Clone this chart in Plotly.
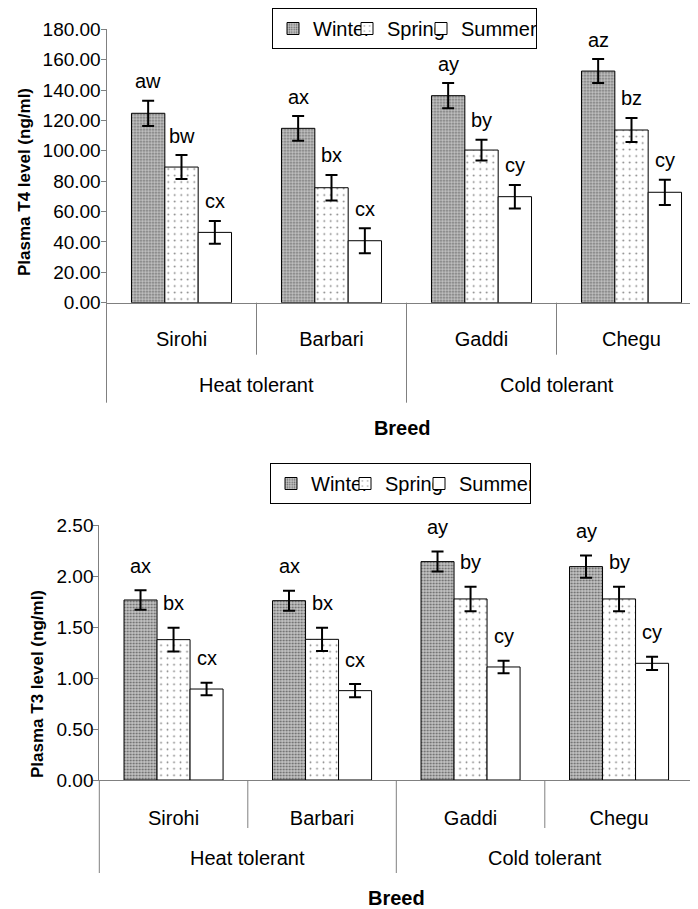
import plotly.graph_objects as go

# ---------------- data ----------------
breeds = ["Sirohi", "Barbari", "Gaddi", "Chegu"]
groups = ["Heat tolerant", "Cold tolerant"]
seasons = ["Winter", "Spring", "Summer"]

t4_winter = [124.7, 114.8, 136.3, 152.5]
t4_spring = [89.3, 75.7, 100.5, 113.7]
t4_summer = [46.3, 40.8, 69.8, 72.7]
t4_winter_err = [8.3, 8.1, 8.3, 7.9]
t4_spring_err = [7.9, 8.4, 6.8, 7.9]
t4_summer_err = [7.5, 8.2, 7.7, 8.3]
t4_winter_lbl = ["aw", "ax", "ay", "az"]
t4_spring_lbl = ["bw", "bx", "by", "bz"]
t4_summer_lbl = ["cx", "cx", "cy", "cy"]

t3_winter = [1.765, 1.758, 2.141, 2.092]
t3_spring = [1.376, 1.379, 1.775, 1.775]
t3_summer = [0.892, 0.876, 1.108, 1.144]
t3_winter_err = [0.095, 0.098, 0.098, 0.11]
t3_spring_err = [0.117, 0.114, 0.12, 0.12]
t3_summer_err = [0.062, 0.065, 0.062, 0.065]
t3_winter_lbl = ["ax", "ax", "ay", "ay"]
t3_spring_lbl = ["bx", "bx", "by", "by"]
t3_summer_lbl = ["cx", "cx", "cy", "cy"]

# ---------------- style / layout ----------------
OFF = 8                      # default page body margin
W, H = 698 - OFF, 909 - OFF  # figure size inside the window
FONT = "Liberation Sans, Arial, sans-serif"
BARGAP = 0.333
AXCOL = "#808080"


def px_x(px):
    return (px - OFF) / W


def px_y(py):
    return 1 - (py - OFF) / H


patterns = {
    "Winter": dict(shape=".", fgcolor="black", bgcolor="#c4c4c4", size=3, solidity=0.3),
    "Spring": dict(shape=".", fgcolor="black", bgcolor="white", size=6.5, solidity=0.06),
    "Summer": dict(shape="", bgcolor="white"),
}

top = dict(xa="x", ya="y", legend="legend",
           xdom=[px_x(106.5), 1.0], ydom=[px_y(302.7), px_y(29.3)],
           xrange=[-0.5, -0.5 + (698 - 106.5) / 150.0], yrange=[0, 180], dtick=20,
           vals=[t4_winter, t4_spring, t4_summer],
           errs=[t4_winter_err, t4_spring_err, t4_summer_err],
           lbls=[t4_winter_lbl, t4_spring_lbl, t4_summer_lbl],
           lblshift=19.5, ytitle="Plasma T4 level (ng/ml)", ytitle_pos=(24, 182),
           right_edge=False, short=52, long=100, grp=82,
           tls=18, breed_standoff=72)
bot = dict(xa="x2", ya="y2", legend="legend2",
           xdom=[px_x(99.3), px_x(693.3)], ydom=[px_y(780), px_y(525)],
           xrange=[-0.5, 3.5], yrange=[0, 2.5], dtick=0.5,
           vals=[t3_winter, t3_spring, t3_summer],
           errs=[t3_winter_err, t3_spring_err, t3_summer_err],
           lbls=[t3_winter_lbl, t3_spring_lbl, t3_summer_lbl],
           lblshift=24.5, ytitle="Plasma T3 level (ng/ml)", ytitle_pos=(37, 684),
           right_edge=True, short=48, long=93, grp=78,
           tls=20, breed_standoff=63)

fig = go.Figure()
annotations = []
shapes = []

for P in (top, bot):
    for i, s in enumerate(seasons):
        fig.add_trace(go.Bar(
            x=breeds, y=P["vals"][i], name=s,
            xaxis=P["xa"], yaxis=P["ya"], legend=P["legend"],
            marker=dict(color="white", line=dict(color="black", width=1),
                        pattern=patterns[s]),
            error_y=dict(type="data", array=P["errs"][i], visible=True,
                         color="black", thickness=2, width=6),
        ))
        off = (i - 1) * (1 - BARGAP) / 3
        for j, b in enumerate(breeds):
            annotations.append(dict(
                x=j + off, y=P["vals"][i][j] + P["errs"][i][j],
                xref=P["xa"], yref=P["ya"], text=P["lbls"][i][j],
                showarrow=False, yanchor="middle", yshift=P["lblshift"],
                font=dict(size=20, color="black", family=FONT)))
    y0 = P["ydom"][0]
    xd = P["xa"] + " domain"
    for xb in (0.5, 2.5):
        shapes.append(dict(type="line", xref=P["xa"], yref="paper",
                           x0=xb, x1=xb, y0=y0, y1=y0 - P["short"] / H,
                           line=dict(color=AXCOL, width=1)))
    shapes.append(dict(type="line", xref=P["xa"], yref="paper",
                       x0=1.5, x1=1.5, y0=y0, y1=y0 - P["long"] / H,
                       line=dict(color=AXCOL, width=1)))
    shapes.append(dict(type="line", xref=xd, yref="paper",
                       x0=0, x1=0, y0=y0, y1=y0 - P["long"] / H,
                       line=dict(color=AXCOL, width=1)))
    if P["right_edge"]:
        shapes.append(dict(type="line", xref=xd, yref="paper",
                           x0=1, x1=1, y0=y0, y1=y0 - P["long"] / H,
                           line=dict(color=AXCOL, width=1)))
    for k, g in enumerate(groups):
        annotations.append(dict(x=0.5 + 2 * k, y=y0 - P["grp"] / H, xref=P["xa"], yref="paper",
                                text=g, showarrow=False, yanchor="middle",
                                font=dict(size=20, color="black", family=FONT)))
    # y-axis title (placed where the original puts it)
    tx, ty = P["ytitle_pos"]
    annotations.append(dict(x=px_x(tx), y=px_y(ty), xref="paper", yref="paper",
                            text="<b>" + P["ytitle"] + "</b>", textangle=-90,
                            showarrow=False, xanchor="center", yanchor="middle",
                            font=dict(size=17, color="black", family=FONT)))


def xaxis_for(P):
    return dict(domain=P["xdom"], range=P["xrange"], anchor=P["ya"],
                showline=True, linecolor=AXCOL, linewidth=1, ticks="",
                showgrid=False, zeroline=False, automargin=False,
                tickfont=dict(size=20, color="black", family=FONT),
                ticklabelstandoff=P["tls"],
                title=dict(text="<b>Breed</b>", standoff=P["breed_standoff"],
                           font=dict(size=20, color="black", family=FONT)))


def yaxis_for(P):
    return dict(domain=P["ydom"], range=P["yrange"], dtick=P["dtick"], anchor=P["xa"],
                showline=True, linecolor=AXCOL, linewidth=1, ticks="outside",
                ticklen=5, tickcolor=AXCOL, showgrid=False, zeroline=False,
                automargin=False, tickformat=".2f", ticklabelstandoff=-4,
                tickfont=dict(size=19, color="black", family=FONT))


def legend_for(left_px, top_px):
    return dict(orientation="h", xanchor="left", yanchor="top",
                x=px_x(left_px), y=min(1.0, px_y(top_px)),
                bordercolor="black", borderwidth=1, bgcolor="white",
                font=dict(size=20, color="black", family=FONT),
                itemwidth=30, entrywidth=29, traceorder="normal")


fig.update_layout(
    width=W, height=H, margin=dict(l=0, r=0, t=0, b=0, pad=0),
    paper_bgcolor="white", plot_bgcolor="white",
    font=dict(family=FONT, color="black"),
    barmode="group", bargap=BARGAP, bargroupgap=0,
    xaxis=xaxis_for(top), yaxis=yaxis_for(top),
    xaxis2=xaxis_for(bot), yaxis2=yaxis_for(bot),
    legend=legend_for(272, 5),
    legend2=legend_for(270, 463),
    annotations=annotations,
    shapes=shapes,
    showlegend=True,
)
# the last legend entry is wider so that "Summer" reaches the box border
fig.data[2].legendwidth = 70
fig.data[5].legendwidth = 66

fig.write_html("out.html")
